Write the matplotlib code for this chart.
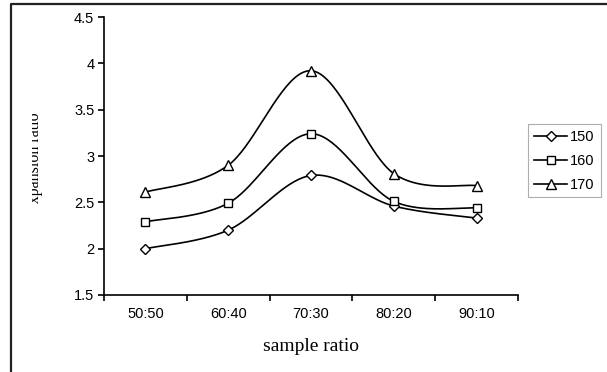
import numpy as np
import matplotlib
matplotlib.use("Agg")
import matplotlib.pyplot as plt
from matplotlib.lines import Line2D
from matplotlib.transforms import Bbox

# Data
ratios = ["50:50", "60:40", "70:30", "80:20", "90:10"]
temp_150 = [2.00, 2.20, 2.79, 2.46, 2.33]
temp_160 = [2.29, 2.49, 3.24, 2.51, 2.44]
temp_170 = [2.61, 2.90, 3.92, 2.81, 2.68]
series_names = ["150", "160", "170"]
y_ticks = [1.5, 2, 2.5, 3, 3.5, 4, 4.5]
y_tick_labels = ["1.5", "2", "2.5", "3", "3.5", "4", "4.5"]


def smooth(xs, ys, n=40):
    """Catmull-Rom style cubic Bezier through every point (spreadsheet smoothing)."""
    xs = np.asarray(xs, float)
    ys = np.asarray(ys, float)
    P = np.column_stack([xs, ys])
    out = []
    for i in range(len(P) - 1):
        p0 = P[i - 1] if i > 0 else P[i]
        p1 = P[i]
        p2 = P[i + 1]
        p3 = P[i + 2] if i + 2 < len(P) else P[i + 1]
        c1 = p1 + (p2 - p0) / 6.0
        c2 = p2 - (p3 - p1) / 6.0
        t = np.linspace(0, 1, n)[:, None]
        seg = ((1 - t) ** 3) * p1 + 3 * ((1 - t) ** 2) * t * c1 \
            + 3 * (1 - t) * t ** 2 * c2 + t ** 3 * p2
        out.append(seg if i == 0 else seg[1:])
    pts = np.vstack(out)
    return pts[:, 0], pts[:, 1]


W, H = 607, 372
fig = plt.figure(figsize=(W / 100, H / 100), dpi=100)
fig.patch.set_facecolor("white")

ax = fig.add_axes([104 / W, (H - 295) / H, 414 / W, 278 / H])

x = np.arange(len(ratios))
markers = ["D", "s", "^"]
msizes = [5.0, 6.0, 7.0]
handles = []
for vals, mk, ms, name in zip([temp_150, temp_160, temp_170], markers, msizes, series_names):
    sx, sy = smooth(x, vals)
    ax.plot(sx, sy, color="black", lw=1.2, zorder=2)
    ax.plot(x, vals, linestyle="none", marker=mk, ms=ms,
            mfc="white", mec="black", mew=1.0, zorder=3)
    handles.append(Line2D([0], [0], color="black", lw=1.2, marker=mk, ms=ms,
                          mfc="white", mec="black", mew=1.0, label=name))

ax.set_xlim(-0.5, len(ratios) - 0.5)
ax.set_ylim(1.5, 4.5)
ax.set_yticks(y_ticks)
ax.set_yticklabels(y_tick_labels)
ax.set_xticks(x)
ax.set_xticklabels(ratios)
ax.set_xticks(np.arange(len(ratios) + 1) - 0.5, minor=True)

for s in ["top", "right"]:
    ax.spines[s].set_visible(False)
for s in ["left", "bottom"]:
    ax.spines[s].set_linewidth(1.2)

ax.tick_params(axis="y", direction="out", length=4, width=1.2, pad=3)
ax.tick_params(axis="x", which="major", length=0, pad=9)
ax.tick_params(axis="x", which="minor", direction="out", length=4, width=1.2)
for lab in ax.get_xticklabels() + ax.get_yticklabels():
    lab.set_fontfamily("Liberation Sans")
    lab.set_fontsize(10.5)

ax.set_xlabel("sample ratio", fontfamily="Liberation Serif", fontsize=14, labelpad=12)

# Vertical axis title, partly cut off at the frame edge
yl = fig.text(35 / W, 1 - 163 / H, "Expansion ratio", rotation=90,
              ha="center", va="center", fontfamily="Liberation Serif", fontsize=11.5)
yl.set_clip_on(True)
yl.set_clip_box(Bbox.from_extents(31.5, H - 205, 60, H - 110))

leg = ax.legend(handles=handles, loc="upper left",
                bbox_to_anchor=(528 / W, 1 - 124 / H), bbox_transform=fig.transFigure,
                frameon=True, fancybox=False, borderpad=0.4, handlelength=2.3,
                handletextpad=0.2, borderaxespad=0, labelspacing=0.68,
                prop=dict(family="Liberation Sans", size=10.5))
leg.get_frame().set_edgecolor("#999999")
leg.get_frame().set_linewidth(0.8)

# Outer chart frame
fig.add_artist(Line2D([11 / W, 11 / W, 1.0], [0.0, 1 - 4 / H, 1 - 4 / H],
                      transform=fig.transFigure, color="#222222", lw=1.6))

fig.savefig("out.png", dpi=100)
